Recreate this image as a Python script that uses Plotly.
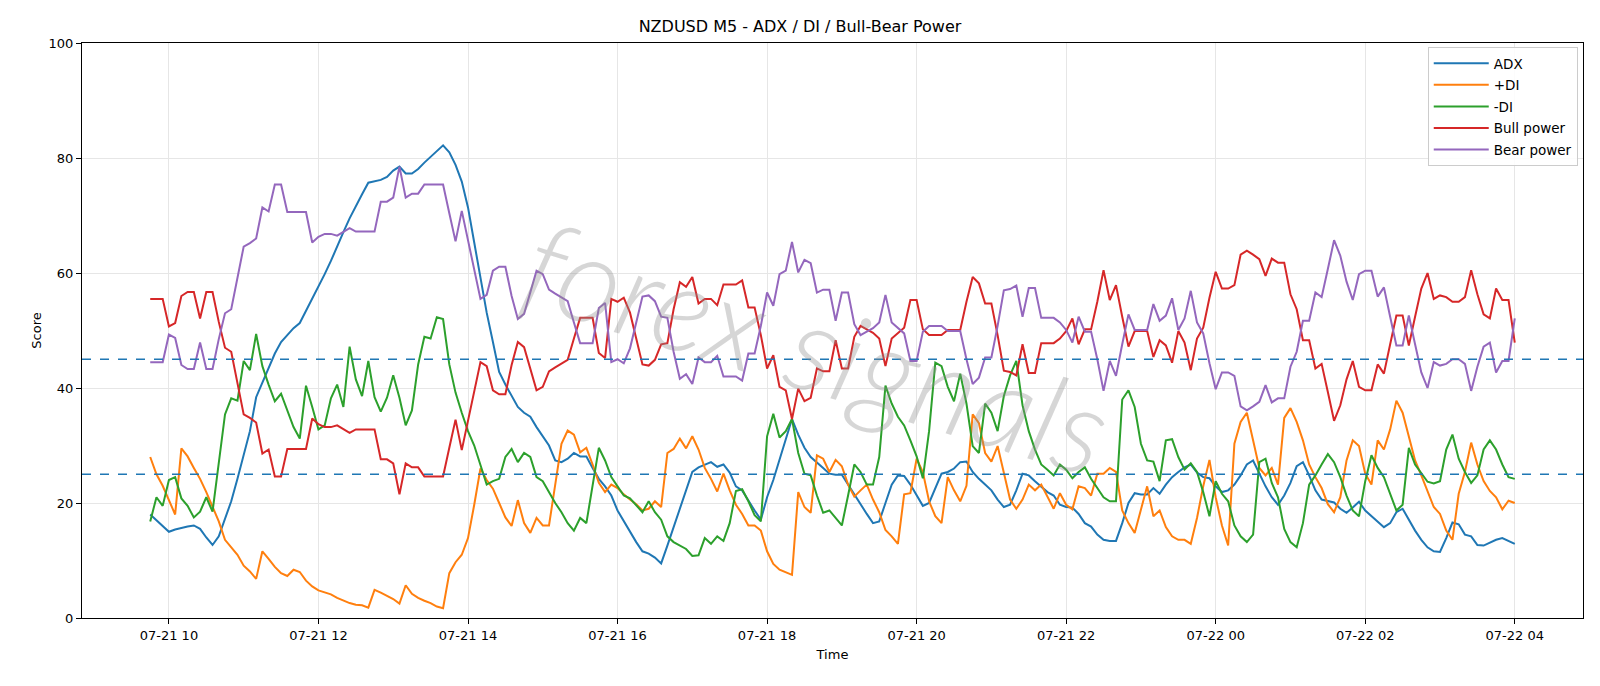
import pandas as pd
import plotly.graph_objects as go

start_time = "2025-07-21 09:45"
n_bars = 220

adx = [18.0, 17.0, 15.9, 15.0, 15.4, 15.7, 15.9, 16.1, 15.5, 14.0, 12.7, 14.2, 17.1, 20.3, 24.2, 28.3, 32.5, 38.4, 40.9, 43.3,
       46.0, 48.0, 49.2, 50.4, 51.3, 53.4, 55.5, 57.6, 59.8, 62.1, 64.7, 67.1, 69.5, 71.7, 73.7, 75.7, 75.9, 76.2, 76.7, 77.8,
       78.5, 77.3, 77.3, 78.1, 79.2, 80.2, 81.2, 82.2, 81.0, 78.8, 75.9, 71.4, 65.3, 58.9, 53.1, 48.0, 42.8, 40.6, 38.6, 36.7,
       35.7, 35.0, 33.2, 31.7, 30.0, 27.4, 27.1, 27.7, 28.7, 28.1, 28.1, 26.1, 24.2, 22.9, 21.3, 18.7, 16.8, 15.0, 13.2, 11.6,
       11.2, 10.5, 9.5, 12.6, 15.8, 19.0, 22.2, 25.4, 26.2, 26.7, 27.1, 26.3, 26.7, 25.3, 22.9, 22.2, 20.4, 18.7, 17.1, 21.0,
       24.0, 27.4, 30.9, 34.6, 31.9, 29.6, 28.0, 27.1, 26.1, 25.1, 24.9, 24.9, 23.2, 21.3, 19.7, 18.1, 16.5, 16.8, 20.0, 23.2,
       24.8, 24.7, 23.2, 21.3, 19.5, 20.0, 22.6, 25.1, 25.4, 26.0, 27.1, 27.2, 25.4, 24.2, 23.2, 22.2, 20.6, 19.3, 19.7, 22.2,
       25.1, 24.8, 23.8, 22.9, 21.9, 21.3, 19.7, 19.3, 19.2, 18.1, 16.5, 15.9, 14.5, 13.6, 13.4, 13.4, 16.5, 20.0, 21.7, 21.5,
       21.5, 22.6, 21.6, 23.2, 24.5, 25.4, 26.2, 26.7, 25.3, 24.5, 24.3, 22.9, 21.9, 22.2, 23.2, 24.8, 26.7, 27.4, 25.1, 22.9,
       21.0, 19.7, 21.3, 23.5, 26.4, 27.1, 24.8, 22.2, 20.6, 20.3, 20.1, 19.0, 18.3, 19.2, 20.2, 18.7, 17.7, 16.8, 15.8, 16.5,
       18.4, 19.0, 17.1, 15.2, 13.6, 12.3, 11.6, 11.5, 13.9, 16.6, 16.3, 14.5, 14.2, 12.7, 12.6, 13.1, 13.6, 13.9, 13.4, 12.9]

plus_di = [28.0, 25.0, 23.0, 20.5, 18.0, 29.5, 28.1, 26.1, 24.2, 21.9, 19.3, 16.8, 13.6, 12.3, 11.0, 9.1, 8.1, 6.8, 11.6, 10.3,
           8.9, 7.8, 7.3, 8.4, 8.0, 6.5, 5.5, 4.8, 4.4, 4.1, 3.5, 3.0, 2.6, 2.3, 2.2, 1.8, 4.9, 4.4, 3.9, 3.3,
           2.5, 5.7, 4.2, 3.5, 3.0, 2.6, 2.0, 1.7, 7.8, 9.7, 11.0, 13.9, 19.7, 26.0, 24.0, 22.5, 20.0, 17.5, 16.0, 20.5,
           16.5, 14.8, 17.4, 16.1, 16.1, 22.9, 30.3, 32.6, 31.9, 28.8, 29.6, 26.7, 23.5, 21.9, 23.2, 22.6, 21.5, 20.6, 19.8, 18.7,
           19.0, 20.3, 19.3, 28.7, 29.4, 31.2, 29.5, 31.6, 29.3, 26.1, 24.2, 22.0, 25.1, 22.2, 19.7, 18.1, 16.1, 16.1, 15.2, 11.6,
           9.4, 8.4, 8.0, 7.5, 21.9, 19.3, 18.3, 28.3, 27.7, 25.4, 27.5, 26.4, 23.2, 21.1, 22.2, 23.2, 20.6, 18.4, 15.3, 14.2,
           12.9, 21.5, 21.7, 27.7, 25.4, 20.3, 17.7, 16.5, 24.5, 22.2, 20.3, 23.0, 35.4, 33.9, 28.7, 27.2, 29.9, 25.4, 20.6, 19.0,
           20.6, 23.2, 22.2, 23.2, 21.0, 19.0, 21.7, 19.7, 18.9, 22.9, 22.6, 21.3, 25.1, 25.1, 26.1, 25.4, 18.7, 16.5, 14.8, 18.7,
           22.9, 17.7, 18.7, 15.8, 14.2, 13.6, 13.6, 12.9, 17.4, 22.9, 27.5, 21.0, 16.1, 12.6, 30.3, 34.1, 35.7, 30.9, 26.1, 24.8,
           26.1, 23.2, 34.8, 36.5, 34.1, 30.9, 26.7, 24.5, 22.6, 19.8, 18.4, 21.0, 27.4, 30.9, 29.9, 25.1, 23.2, 30.9, 29.3, 32.8,
           37.8, 35.7, 31.6, 27.4, 24.8, 21.9, 19.3, 18.1, 15.2, 13.6, 21.6, 25.4, 30.5, 26.7, 23.8, 22.1, 21.0, 18.9, 20.4, 20.0]

minus_di = [16.8, 21.0, 19.5, 24.0, 24.5, 20.8, 19.5, 17.5, 18.5, 21.0, 18.5, 27.4, 35.4, 38.2, 37.8, 44.7, 43.1, 49.4, 43.8, 40.6,
            37.7, 39.0, 36.0, 33.2, 31.2, 40.4, 36.7, 32.8, 33.5, 38.2, 40.6, 36.7, 47.2, 41.5, 38.6, 44.7, 38.4, 35.9, 38.3, 42.2,
            38.3, 33.5, 36.1, 44.1, 48.9, 48.6, 52.3, 52.0, 44.1, 39.2, 35.7, 32.5, 30.0, 26.7, 23.2, 23.8, 24.2, 28.0, 29.4, 27.1,
            28.7, 28.0, 24.5, 23.8, 21.9, 20.0, 18.4, 16.5, 15.2, 17.4, 16.5, 22.9, 29.6, 27.4, 24.5, 22.9, 21.3, 20.8, 19.5, 18.4,
            20.3, 18.4, 17.1, 14.2, 13.2, 12.6, 12.0, 10.8, 10.9, 13.9, 12.9, 14.2, 13.4, 16.5, 22.1, 22.4, 20.3, 17.9, 16.8, 31.6,
            35.5, 31.4, 32.5, 34.6, 28.7, 25.1, 24.8, 21.3, 18.3, 18.7, 17.4, 16.1, 21.3, 26.7, 25.4, 23.2, 23.2, 28.0, 40.4, 37.3,
            35.0, 33.5, 30.9, 28.1, 24.3, 32.5, 44.4, 43.8, 40.2, 37.7, 42.5, 37.3, 29.9, 28.7, 37.3, 35.7, 32.5, 38.6, 42.2, 44.7,
            37.0, 32.5, 29.3, 26.7, 25.8, 24.8, 26.7, 25.8, 24.3, 25.4, 26.2, 24.2, 22.6, 21.0, 20.3, 20.3, 38.0, 39.6, 36.7, 30.3,
            27.4, 27.2, 23.8, 30.9, 31.1, 28.0, 25.8, 26.9, 25.4, 21.9, 17.7, 23.8, 21.6, 20.3, 16.1, 14.2, 13.2, 14.5, 27.1, 27.7,
            23.5, 21.0, 15.5, 13.2, 12.3, 16.5, 23.2, 24.8, 26.7, 28.5, 27.1, 24.5, 21.3, 18.7, 17.7, 23.8, 28.3, 26.1, 24.5, 21.6,
            18.7, 19.7, 29.6, 26.7, 25.1, 23.7, 23.4, 23.8, 29.3, 31.9, 27.7, 25.4, 23.5, 24.8, 29.3, 30.9, 29.3, 26.7, 24.5, 24.2]

bull_power = [55.5, 55.5, 55.5, 50.7, 51.3, 56.0, 56.7, 56.7, 52.1, 56.7, 56.7, 51.5, 47.0, 46.3, 40.5, 35.4, 34.8, 34.0, 28.6, 29.3,
              24.6, 24.6, 29.4, 29.4, 29.4, 29.4, 34.7, 33.7, 33.2, 33.2, 33.5, 32.8, 32.2, 32.8, 32.8, 32.8, 32.8, 27.6, 27.6, 26.9,
              21.5, 26.9, 26.2, 26.2, 24.6, 24.6, 24.6, 24.6, 29.6, 34.5, 29.2, 34.1, 39.2, 44.5, 43.8, 39.6, 38.9, 38.9, 44.0, 48.0,
              47.1, 43.4, 39.6, 40.2, 42.9, 43.6, 44.2, 44.9, 48.6, 52.2, 52.2, 52.2, 46.1, 45.2, 55.5, 55.0, 55.7, 53.1, 48.6, 44.1,
              43.9, 44.9, 47.6, 47.8, 53.7, 58.4, 57.6, 59.3, 54.7, 55.5, 55.5, 54.4, 58.0, 58.0, 58.0, 58.7, 54.0, 54.0, 49.2, 43.4,
              45.7, 40.2, 39.6, 34.6, 39.9, 37.7, 38.3, 43.4, 42.9, 42.9, 48.3, 43.4, 43.4, 48.9, 50.8, 50.2, 49.6, 48.6, 43.8, 48.6,
              49.6, 50.5, 55.3, 55.3, 50.2, 49.2, 49.2, 49.2, 50.1, 50.1, 50.1, 55.0, 59.3, 58.2, 54.7, 54.7, 49.2, 43.0, 42.8, 42.2,
              47.6, 42.6, 42.6, 47.8, 47.8, 47.8, 48.6, 49.9, 52.1, 47.6, 50.2, 50.2, 55.0, 60.5, 55.3, 57.9, 52.4, 47.2, 49.9, 49.9,
              49.9, 45.4, 48.3, 47.4, 44.4, 49.9, 47.9, 43.1, 48.6, 50.5, 55.7, 60.2, 57.3, 57.3, 57.9, 63.2, 63.9, 63.2, 62.4, 59.5,
              62.5, 61.8, 61.8, 56.3, 53.7, 48.3, 48.3, 43.4, 44.2, 39.3, 34.3, 37.0, 41.5, 44.7, 40.2, 39.6, 39.6, 44.1, 42.5, 47.6,
              52.6, 52.6, 47.4, 52.4, 57.3, 60.0, 55.5, 56.1, 55.8, 55.0, 55.0, 55.8, 60.5, 56.3, 52.8, 52.1, 57.3, 55.3, 55.3, 47.9]

bear_power = [44.5, 44.5, 44.5, 49.3, 48.7, 44.0, 43.3, 43.3, 47.9, 43.3, 43.3, 48.5, 53.0, 53.7, 59.5, 64.6, 65.2, 66.0, 71.4, 70.7,
              75.4, 75.4, 70.6, 70.6, 70.6, 70.6, 65.3, 66.3, 66.8, 66.8, 66.5, 67.2, 67.8, 67.2, 67.2, 67.2, 67.2, 72.4, 72.4, 73.1,
              78.5, 73.1, 73.8, 73.8, 75.4, 75.4, 75.4, 75.4, 70.4, 65.5, 70.8, 65.9, 60.8, 55.5, 56.2, 60.4, 61.1, 61.1, 56.0, 52.0,
              52.9, 56.6, 60.4, 59.8, 57.1, 56.4, 55.8, 55.1, 51.4, 47.8, 47.8, 47.8, 53.9, 54.8, 44.5, 45.0, 44.3, 46.9, 51.4, 55.9,
              56.1, 55.1, 52.4, 52.2, 46.3, 41.6, 42.4, 40.7, 45.3, 44.5, 44.5, 45.6, 42.0, 42.0, 42.0, 41.3, 46.0, 46.0, 50.8, 56.6,
              54.3, 59.8, 60.4, 65.4, 60.1, 62.3, 61.7, 56.6, 57.1, 57.1, 51.7, 56.6, 56.6, 51.1, 49.2, 49.8, 50.4, 51.4, 56.2, 51.4,
              50.4, 49.5, 44.7, 44.7, 49.8, 50.8, 50.8, 50.8, 49.9, 49.9, 49.9, 45.0, 40.7, 41.8, 45.3, 45.3, 50.8, 57.0, 57.2, 57.8,
              52.4, 57.4, 57.4, 52.2, 52.2, 52.2, 51.4, 50.1, 47.9, 52.4, 49.8, 49.8, 45.0, 39.5, 44.7, 42.1, 47.6, 52.8, 50.1, 50.1,
              50.1, 54.6, 51.7, 52.6, 55.6, 50.1, 52.1, 56.9, 51.4, 49.5, 44.3, 39.8, 42.7, 42.7, 42.1, 36.8, 36.1, 36.8, 37.6, 40.5,
              37.5, 38.2, 38.2, 43.7, 46.3, 51.7, 51.7, 56.6, 55.8, 60.7, 65.7, 63.0, 58.5, 55.3, 59.8, 60.4, 60.4, 55.9, 57.5, 52.4,
              47.4, 47.4, 52.6, 47.6, 42.7, 40.0, 44.5, 43.9, 44.2, 45.0, 45.0, 44.2, 39.5, 43.7, 47.2, 47.9, 42.7, 44.7, 44.7, 52.1]

threshold_levels = [45, 25]
y_ticks = [0, 20, 40, 60, 80, 100]

times = pd.date_range(start_time, periods=n_bars, freq="5min")

series = [
    ("ADX", adx, "#1f77b4"),
    ("+DI", plus_di, "#ff7f0e"),
    ("-DI", minus_di, "#2ca02c"),
    ("Bull power", bull_power, "#d62728"),
    ("Bear power", bear_power, "#9467bd"),
]

fig = go.Figure()
for name, vals, color in series:
    fig.add_trace(go.Scatter(x=times, y=vals, mode="lines", name=name, legendgroup=name,
                             line=dict(color=color, width=2)))

for lvl in threshold_levels:
    fig.add_hline(y=lvl, line=dict(color="#1f77b4", width=1.3, dash="dash"))

span = times[-1] - times[0]
pad = span * 0.05
x_range = [times[0] - pad, times[-1] + pad]

fig.add_annotation(text="forex signals", xref="paper", yref="paper", x=0.49, y=0.475,
                   showarrow=False, textangle=17,
                   font=dict(family="Lato", size=122, weight=300, style="italic",
                             color="rgba(140,140,140,0.36)"))

fig.update_layout(
    width=1600, height=686,
    margin=dict(l=82, r=17, t=43, b=68),
    paper_bgcolor="white", plot_bgcolor="white",
    font=dict(family="DejaVu Sans", size=13, color="black"),
    title=dict(text="NZDUSD M5 - ADX / DI / Bull-Bear Power", x=0.5, xanchor="center",
               y=0.962, yanchor="middle", font=dict(size=16)),
    legend=dict(x=0.9965, xanchor="right", y=0.993, yanchor="top",
                bgcolor="rgba(255,255,255,0.85)", bordercolor="#cccccc", borderwidth=1,
                font=dict(size=13.5), itemwidth=55, tracegroupgap=1),
    showlegend=True,
)
fig.update_xaxes(range=x_range, type="date", tickformat="%m-%d %H", dtick=7200000,
                 tick0="2025-07-21 00:00", showgrid=True, gridcolor="#e6e6e6",
                 showline=True, linecolor="black", linewidth=1, mirror=True,
                 ticks="outside", ticklen=5, tickcolor="black", zeroline=False,
                 title=dict(text="Time", font=dict(size=13), standoff=8))
fig.update_yaxes(range=[0, 100], tickvals=y_ticks, showgrid=True, gridcolor="#e6e6e6",
                 showline=True, linecolor="black", linewidth=1, mirror=True,
                 ticks="outside", ticklen=5, tickcolor="black", zeroline=False,
                 title=dict(text="Score", font=dict(size=13), standoff=4))

fig.write_html("out.html")
